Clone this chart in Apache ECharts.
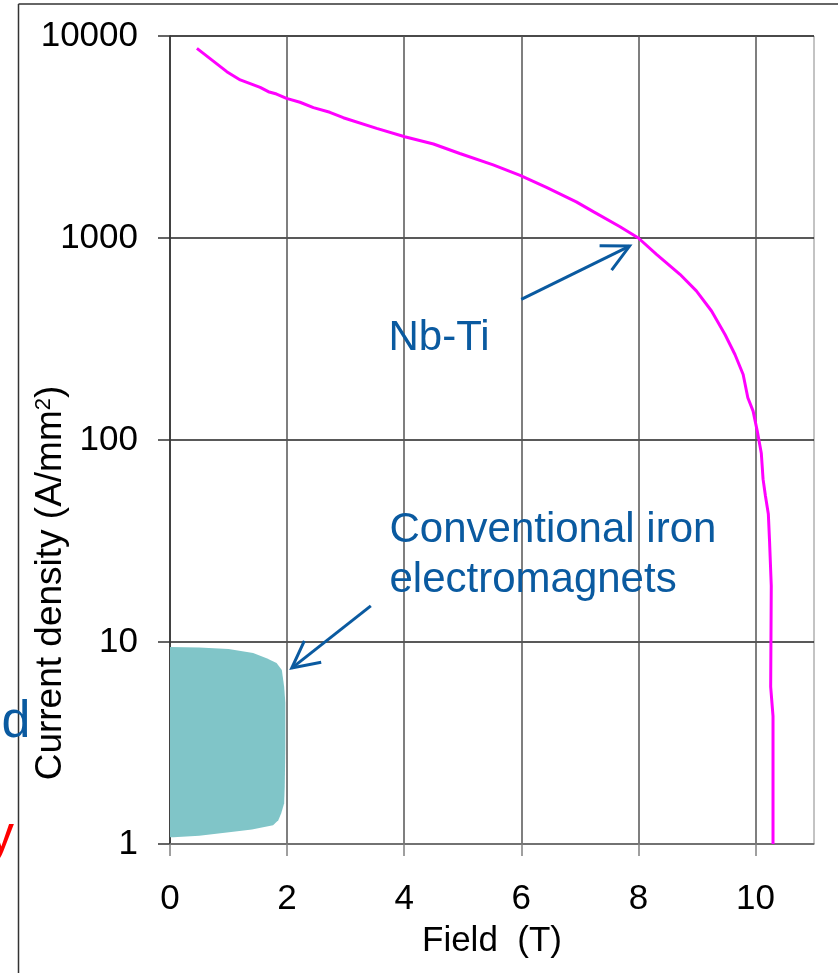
<!DOCTYPE html>
<html>
<head>
<meta charset="utf-8">
<script src="https://cdn.jsdelivr.net/npm/echarts@6/dist/echarts.min.js"></script>
<style>
html,body{margin:0;padding:0;background:#fff;}
#chart{width:838px;height:973px;}
</style>
</head>
<body>
<div id="chart"></div>
<script>
// Nb-Ti critical current density curve (Field in T, Jc in A/mm^2)
const nbtiField = [0.46,0.97,1.2,1.54,1.68,1.82,1.99,2.22,2.45,2.73,2.96,3.53,4.01,4.5,4.95,5.52,5.98,6.43,6.94,7.23,7.68,8.0,8.31,8.71,8.99,9.25,9.48,9.65,9.79,9.87,9.96,10.03,10.1,10.13,10.17,10.22,10.24,10.27,10.26,10.3,10.3];
const nbtiJc    = [8690,6660,6060,5570,5300,5160,4910,4700,4420,4190,3940,3490,3170,2920,2620,2300,2040,1780,1510,1350,1140,1000,830,661,547,435,333,265,211,162,139,111,86,64,53,43,32,19,6,4.3,1];

// Conventional iron electromagnets region outline
const ironField = [0,0.5,1.0,1.42,1.65,1.82,1.91,1.95,1.97,1.97,1.96,1.95,1.9,1.85,1.76,1.4,1.08,0.5,0.06,0];
const ironJ     = [9.44,9.4,9.23,8.83,8.3,7.87,7.27,6.01,5.0,3.0,1.92,1.59,1.42,1.31,1.24,1.18,1.15,1.1,1.08,1.08];

// annotation arrows [fromField, fromJ, toField, toJ]
const arrowFrom = [[6.0,497],[3.43,15.1]];
const arrowTo   = [[7.85,912],[2.08,7.43]];

const xTicks = [0,2,4,6,8,10];
const yTickLabels = ['1','10','100','1000','10000'];

const FONT = 'Liberation Sans, Arial, sans-serif';
const BLUE = '#0a5aa0';

const chart = echarts.init(document.getElementById('chart'), null, {renderer:'canvas'});

const arrowData = arrowFrom.map((f,i)=>[f[0],f[1],arrowTo[i][0],arrowTo[i][1]]);

const option = {
  animation:false,
  backgroundColor:'#fff',
  grid:{left:170,right:24,top:36,bottom:129,show:true,borderColor:'#888',borderWidth:1,outerBoundsMode:'none'},
  xAxis:{
    type:'value',min:0,max:11,interval:2,
    name:'Field  (T)',nameLocation:'middle',nameGap:80,
    nameTextStyle:{fontFamily:FONT,fontSize:35,color:'#000'},
    axisLine:{show:true,onZero:false,lineStyle:{color:'#808080',width:1.5}},
    axisTick:{show:true,length:12,inside:false,customValues:xTicks,lineStyle:{color:'#808080',width:1.5}},
    axisLabel:{customValues:xTicks,margin:38,fontFamily:FONT,fontSize:35,color:'#000'},
    splitLine:{show:true,lineStyle:{color:'#555',width:1.5}}
  },
  yAxis:{
    type:'log',logBase:10,min:1,max:10000,
    axisLine:{show:true,lineStyle:{color:'#333',width:1.5}},
    axisTick:{show:true,length:12,lineStyle:{color:'#333',width:1.5}},
    axisLabel:{margin:32,fontFamily:FONT,fontSize:35,color:'#000',
      formatter:function(v){const i=Math.round(Math.log10(v));return yTickLabels[i]||'';}},
    splitLine:{show:true,lineStyle:{color:'#222',width:1.5}},
    minorTick:{show:false}
  },
  series:[
    {
      type:'custom',name:'Conventional iron electromagnets',
      data:ironField.map((x,i)=>[x,ironJ[i]]),
      clip:false,z:2,
      renderItem:function(params,api){
        if(params.dataIndex!==0) return null;
        const pts = ironField.map((x,i)=>api.coord([x,ironJ[i]]));
        return {type:'polygon',shape:{points:pts,smooth:0},style:{fill:'#80c5c8',stroke:null}};
      }
    },
    {
      type:'line',name:'Nb-Ti',
      data:nbtiField.map((x,i)=>[x,nbtiJc[i]]),
      showSymbol:false,smooth:false,z:4,
      lineStyle:{color:'#ff00ff',width:3}
    },
    {
      type:'custom',name:'arrows',
      data:arrowData,
      encode:{x:[0,2],y:[1,3]},
      clip:false,z:5,
      renderItem:function(params,api){
        const s=api.coord([api.value(0),api.value(1)]);
        const e=api.coord([api.value(2),api.value(3)]);
        const ang=Math.atan2(s[1]-e[1],s[0]-e[0]);
        const L=30,a=27*Math.PI/180;
        const w1=[e[0]+L*Math.cos(ang+a),e[1]+L*Math.sin(ang+a)];
        const w2=[e[0]+L*Math.cos(ang-a),e[1]+L*Math.sin(ang-a)];
        return {type:'group',children:[
          {type:'line',shape:{x1:s[0],y1:s[1],x2:e[0],y2:e[1]},style:{stroke:BLUE,lineWidth:3}},
          {type:'polyline',shape:{points:[w1,e,w2]},style:{stroke:BLUE,lineWidth:3,fill:null}}
        ]};
      }
    }
  ],
  graphic:[
    {type:'line',shape:{x1:18.5,y1:4,x2:838,y2:4},style:{stroke:'#333',lineWidth:1.5},z:10},
    {type:'line',shape:{x1:18.5,y1:4,x2:18.5,y2:973},style:{stroke:'#333',lineWidth:1.5},z:10},
    {type:'text',x:51,y:583,rotation:Math.PI/2,
      style:{text:'Current density (A/mm{s|2})',font:'37px '+FONT,fill:'#000',align:'center',verticalAlign:'middle',
        rich:{s:{fontFamily:FONT,fontSize:22,fill:'#000',verticalAlign:'top'}}},z:10},
    {type:'text',x:388.5,y:338.4,style:{text:'Nb-Ti',font:'42px '+FONT,fill:BLUE,textAlign:'left',textVerticalAlign:'middle'},z:10},
    {type:'text',x:389.5,y:530.4,style:{text:'Conventional iron',font:'42px '+FONT,fill:BLUE,textAlign:'left',textVerticalAlign:'middle'},z:10},
    {type:'text',x:389.5,y:580.4,style:{text:'electromagnets',font:'42px '+FONT,fill:BLUE,textAlign:'left',textVerticalAlign:'middle'},z:10},
    {type:'text',x:30.5,y:723,style:{text:'d',font:'52px '+FONT,fill:BLUE,textAlign:'right',textVerticalAlign:'middle'},z:10},
    {type:'text',x:-12,y:837,style:{text:'y',font:'52px '+FONT,fill:'#ff0000',textAlign:'left',textVerticalAlign:'middle'},z:10}
  ]
};
chart.setOption(option);
</script>
</body>
</html>
